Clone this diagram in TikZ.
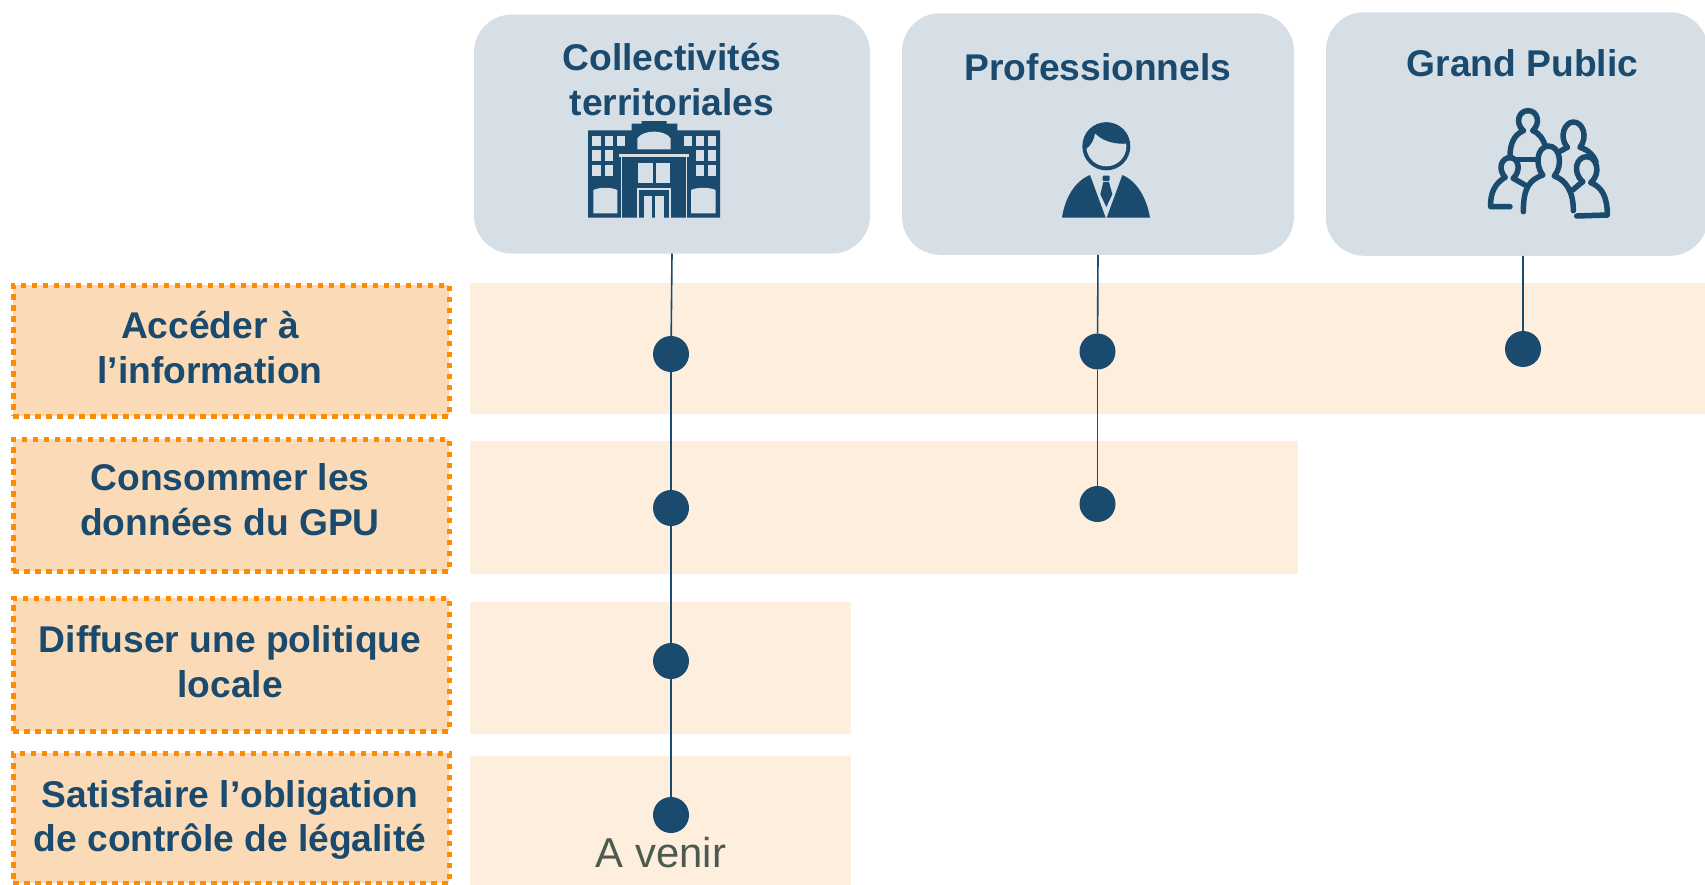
\documentclass[tikz,border=0pt]{standalone}
\usepackage{fontspec}
\setmainfont{Liberation Sans}
\definecolor{navy}{HTML}{1A4A6E}
\definecolor{cardc}{HTML}{D6DEE6}
\definecolor{bandc}{HTML}{FDEEDD}
\definecolor{boxc}{HTML}{FBDBB7}
\definecolor{dotc}{HTML}{FF8C00}
\definecolor{greyc}{HTML}{4D5A50}
\tikzset{
  cardbox/.style={fill=cardc,rounded corners=38pt,inner sep=0pt,outer sep=0pt},
  bandbox/.style={fill=bandc,inner sep=0pt,outer sep=0pt,anchor=north west},
  taskbox/.style={fill=boxc,draw=dotc,line width=5pt,dash pattern=on 5.5pt off 5.5pt,inner sep=0pt,outer sep=0pt,anchor=north west},
  title/.style={font=\fontsize{37.2}{44.8}\selectfont\bfseries,text=navy,align=center,inner sep=0pt},
  pointdot/.style={circle,fill=navy,minimum size=36pt,inner sep=0pt,outer sep=0pt},
  link/.style={draw=navy,line width=1.6pt},
  lite/.style={fill=cardc,draw=none},
  dark/.style={fill=navy,draw=none},
  grp/.style={draw=navy,line width=5.5pt,line cap=round,line join=round}
}
\begin{document}
\begin{tikzpicture}[x=1pt,y=-1pt]
\useasboundingbox (0,0) rectangle (1705,884);
% bands
\node[bandbox,minimum width=1235pt,minimum height=131pt] (b1) at (470,282.5) {};
\node[bandbox,minimum width=828pt,minimum height=132.5pt] (b2) at (470,441) {};
\node[bandbox,minimum width=381pt,minimum height=132pt] (b3) at (470,601.5) {};
\node[bandbox,minimum width=381pt,minimum height=129pt] (b4) at (470,755.5) {};
% task boxes
\node[taskbox,minimum width=436pt,minimum height=131pt] (t1) at (13,285) {};
\node[taskbox,minimum width=436pt,minimum height=132pt] (t2) at (13,439) {};
\node[taskbox,minimum width=436pt,minimum height=133pt] (t3) at (13,598) {};
\node[taskbox,minimum width=436pt,minimum height=130pt] (t4) at (13,753) {};
\node[title] (l1) at (210,347.5) {Accéder à\\l’information};
\node[title] (l2) at (230,500) {Consommer les\\données du GPU};
\node[title] (l3) at (230,662) {Diffuser une politique\\locale};
\node[title] (l4) at (230,820) {Satisfaire l’obligation\\de contrôle de légalité};
% cards
\node[cardbox,minimum width=396pt,minimum height=239pt] (c1) at (672,134) {};
\node[cardbox,minimum width=392pt,minimum height=241.5pt] (c2) at (1098,134) {};
\node[cardbox,minimum width=382pt,minimum height=243.5pt] (c3) at (1517,134) {};
\node[title] (h1) at (672,79.5) {Collectivités\\territoriales};
\node[title] (h2) at (1098,67) {Professionnels};
\node[title] (h3) at (1522.5,63) {Grand Public};
% dots
\node[pointdot] (d11) at (671,354) {};
\node[pointdot] (d12) at (671,508) {};
\node[pointdot] (d13) at (671,661) {};
\node[pointdot] (d14) at (671,815) {};
\node[pointdot] (d21) at (1097.5,351.5) {};
\node[pointdot] (d22) at (1097.5,504) {};
\node[pointdot] (d31) at (1523,349) {};
% connectors
\draw[link] (c1.south) -- (d11);
\draw[link] (d11) -- (d12);
\draw[link] (d12) -- (d13);
\draw[link] (d13) -- (d14);
\draw[link] (c2.south) -- (d21);
\draw[link] (d21) -- (d22);
\draw[link] (d31|-c3.south) -- (d31);
\node[font=\fontsize{41.8}{48}\selectfont,text=greyc,inner sep=0pt] (av) at (661,853) {A venir};
% building icon
\begin{scope}[shift={(560,1)},x=0.33333pt,y=-0.33333pt]
\fill[dark] (84,388) -- (215,388) -- (215,368) -- (245,368) -- (245,360) -- (320,360) -- (320,368) -- (352,368) -- (352,388) -- (480,388) -- (480,650) -- (84,650) -- cycle;
\foreach \a/\b in {97/122,134/158,170/194,371/395,407/431,443/467} \fill[lite] (\a,404) rectangle (\b,436);
\foreach \a/\b in {97/122,134/158,407/431,443/467} {\fill[lite] (\a,448) rectangle (\b,480); \fill[lite] (\a,492) rectangle (\b,526);}
\fill[lite] (232,445) -- (232,412) .. controls (250,385) and (314,385) .. (332,412) -- (332,445) -- cycle;
\fill[lite] (178,459) rectangle (386,467);
\fill[lite] (183,467) rectangle (187,650);
\fill[lite] (378,467) rectangle (382,650);
\fill[lite] (234,486) rectangle (280,545);
\fill[lite] (288,486) rectangle (331,545);
\draw[draw=cardc,line width=2pt] (234,650) -- (234,564) -- (331,564) -- (331,650);
\fill[lite] (253,584) rectangle (277,650);
\fill[lite] (284,584) rectangle (311,650);
\fill[lite] (100,637) -- (100,567) .. controls (120,558) and (152,558) .. (172,567) -- (172,637) -- cycle;
\fill[lite] (393,637) -- (393,567) .. controls (413,558) and (447,558) .. (467,567) -- (467,637) -- cycle;
\end{scope}
% person icon
\begin{scope}[shift={(1040,101)},x=0.33333pt,y=-0.33333pt]
\fill[dark] (199,136) circle[radius=24pt];
\fill[lite] (199,136) circle[radius=20pt];
\begin{scope}
\clip (199,136) circle[radius=24pt];
\fill[dark] (137,145) .. controls (155,132) and (162,115) .. (165,97) .. controls (190,122) and (225,130) .. (262,128) -- (270,60) -- (130,60) -- cycle;
\end{scope}
\fill[dark] (66,350) .. controls (75,290) and (105,240) .. (150,222) -- (197,350) -- cycle;
\fill[dark] (330,350) .. controls (320,290) and (290,240) .. (247,222) -- (200,350) -- cycle;
\fill[dark,rounded corners=1pt] (188,224) rectangle (209,240);
\fill[dark] (190,243) -- (207,243) -- (217,280) -- (199,318) -- (181,280) -- cycle;
\end{scope}
% group icon
\begin{scope}[shift={(1460,90)},x=0.33333pt,y=-0.33333pt]
\draw[grp] (190,122) .. controls (165,100) and (175,62) .. (204,62) .. controls (233,62) and (243,100) .. (218,122) .. controls (240,130) and (250,150) .. (255,165);
\draw[grp] (190,122) .. controls (160,135) and (150,165) .. (150,200);
\draw[grp] (322,172) .. controls (295,140) and (315,96) .. (340,96) .. controls (368,96) and (385,140) .. (360,172) .. controls (385,180) and (400,195) .. (408,215);
\draw[grp] (322,172) -- (298,185);
\draw[grp] (248,255) .. controls (225,225) and (230,170) .. (265,168) .. controls (300,168) and (310,225) .. (283,258) .. controls (315,270) and (340,300) .. (340,362);
\draw[grp] (248,255) .. controls (210,270) and (190,290) .. (190,365);
\draw[grp] (160,265) -- (195,285);
\draw[grp] (170,208) -- (235,208);
\draw[grp] (135,262) .. controls (112,235) and (125,203) .. (150,203) .. controls (175,203) and (185,240) .. (160,265);
\draw[grp] (135,262) .. controls (105,280) and (90,310) .. (92,350) -- (150,350);
\draw[grp] (368,275) .. controls (335,245) and (350,200) .. (380,200) .. controls (410,200) and (425,250) .. (392,278) .. controls (425,290) and (442,320) .. (442,375) -- (350,378);
\draw[grp] (368,275) -- (338,300);
\end{scope}
\end{tikzpicture}
\end{document}
